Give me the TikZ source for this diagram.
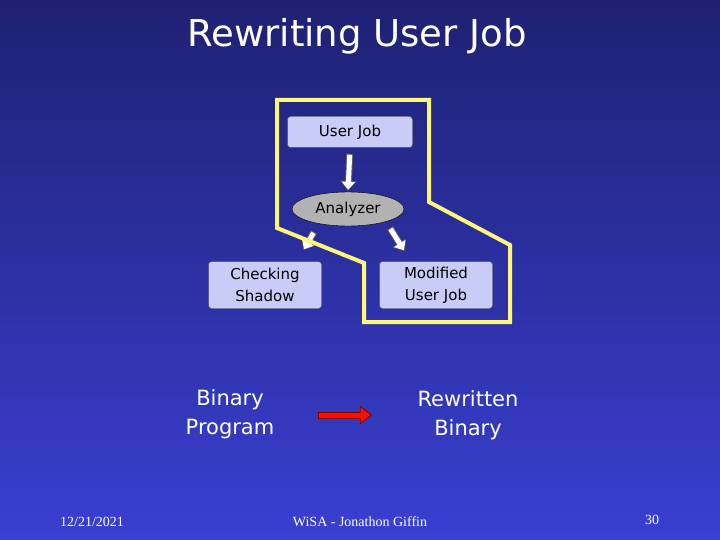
\documentclass[tikz,border=0pt]{standalone}
\usepackage{fontspec}
\setmainfont{DejaVu Sans}
\newfontfamily\serifft{Liberation Serif}
\usetikzlibrary{arrows.meta,shapes.geometric}
\definecolor{bgtop}{HTML}{1E2172}
\definecolor{bgbot}{HTML}{3A3FD2}
\definecolor{boxfill}{HTML}{C8CCF6}
\definecolor{hl}{HTML}{FFF77A}
\tikzset{
 box/.style={draw=gray!60!black, fill=boxfill, rounded corners=3pt, minimum width=113pt, minimum height=47pt, align=center, font=\fontsize{15}{22}\selectfont, text=black},
 wtxt/.style={text=white, align=center, font=\fontsize{21}{29}\selectfont},
 barrow/.style={draw=gray!70!black, line width=7pt, -{Triangle[length=10pt,width=16pt]}, shorten >=1pt},
 barrowin/.style={white, line width=5pt, -{Triangle[length=8pt,width=13pt]}, shorten >=2pt},
}
\begin{document}
\begin{tikzpicture}[x=1pt,y=-1pt]
\shade[top color=bgtop, bottom color=bgbot] (0,0) rectangle (720,540);
\useasboundingbox (0,0) rectangle (720,540);
\node[text=white, font=\fontsize{37}{40}\selectfont] (title) at (357,36) {Rewriting User Job};
\node[box, minimum width=125pt, minimum height=31pt] (uj) at (350,132) {User Job};
\node[ellipse, draw=black, fill=gray!60, minimum width=112pt, minimum height=34pt, font=\fontsize{15}{15}\selectfont] (an) at (348,209) {Analyzer};
\node[box] (cs) at (265,285) {Checking\\Shadow};
\node[box] (mu) at (436,285) {Modified\\User Job};
\coordinate (s1) at (314,232);
\coordinate (a1) at (303,251);
\coordinate (s2) at (390,228);
\coordinate (a2) at (405,252);
\foreach \s/\t/\k in {{uj.south}/{an.north}/6, s1/a1/0, s2/a2/0}{
 \draw[barrow,shorten <=\k pt] (\s) -- (\t);
 \draw[barrowin,shorten <=\k pt+1pt] (\s) -- (\t);
}
\draw[hl, line width=4pt, line join=miter] (277,100) -- (429,100) -- (429,202) -- (510,245) -- (510,322) -- (364,322) -- (364,263) -- (277,228) -- cycle;
\node[wtxt] (bp) at (230,414) {Binary\\Program};
\node[wtxt] (rb) at (468,415) {Rewritten\\Binary};
\draw[draw=red!50!black, line width=7pt, -{Triangle[length=12pt,width=18pt]}] (318,415) -- (372,415);
\draw[red!90!orange, line width=5pt, -{Triangle[length=10pt,width=15pt]}, shorten >=1.5pt] (319,415) -- (372,415);
\node[text=white, font=\serifft\fontsize{14}{14}\selectfont] (d) at (92,522) {12/21/2021};
\node[text=white, font=\serifft\fontsize{14}{14}\selectfont] (f) at (360,522) {WiSA - Jonathon Giffin};
\node[text=white, font=\serifft\fontsize{14}{14}\selectfont] (p) at (652,520) {30};
\end{tikzpicture}
\end{document}
